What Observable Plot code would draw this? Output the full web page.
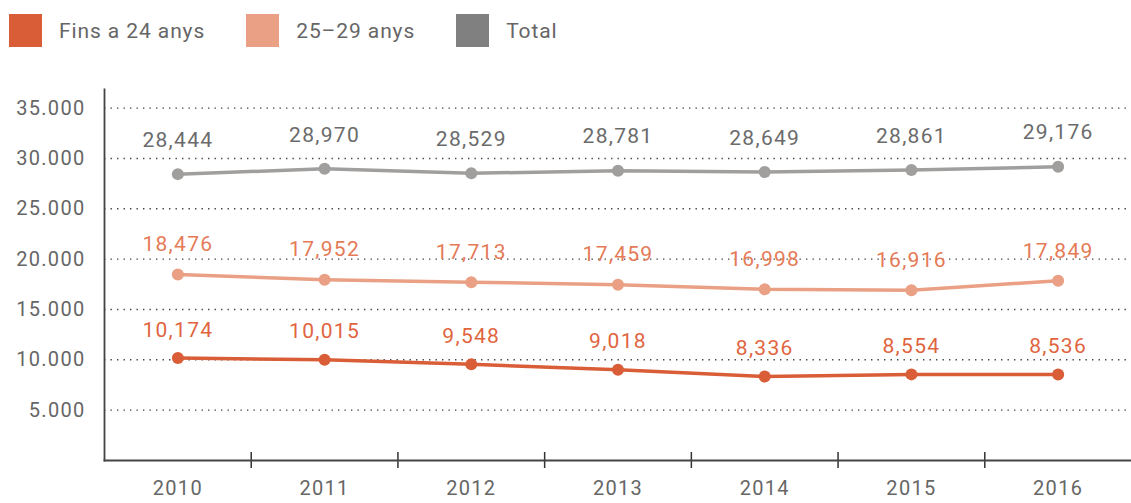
<!DOCTYPE html>
<html>
<head>
<meta charset="utf-8">
<script src="https://cdn.jsdelivr.net/npm/d3@7"></script>
<script src="https://cdn.jsdelivr.net/npm/@observablehq/plot@0.6"></script>
<style>
  html, body { margin: 0; padding: 0; background: #fff; }
  body { font-family: Roboto, sans-serif; width: 1131px; overflow: hidden; }
  #legend { display: flex; height: 60px; padding: 14px 0 0 9px; box-sizing: border-box; }
  .item { display: flex; align-items: center; height: 33px; color: #666; font-size: 21px; letter-spacing: 0.9px; }
  .sw { width: 33px; height: 33px; margin-right: 17px; }
  #chart svg { display: block; }
</style>
</head>
<body>
<div id="legend"></div>
<div id="chart"></div>
<script>
// ---- data ----
const years = [2010, 2011, 2012, 2013, 2014, 2015, 2016];
const finsA24 = [10174, 10015, 9548, 9018, 8336, 8554, 8536];
const de25a29 = [18476, 17952, 17713, 17459, 16998, 16916, 17849];
const totals = [28444, 28970, 28529, 28781, 28649, 28861, 29176];
const seriesNames = ["Fins a 24 anys", "25–29 anys", "Total"];
const yTicks = [5000, 10000, 15000, 20000, 25000, 30000, 35000];
const yTickLabels = ["5.000", "10.000", "15.000", "20.000", "25.000", "30.000", "35.000"];
const xTickLabels = ["2010", "2011", "2012", "2013", "2014", "2015", "2016"];

// ---- styles ----
const lineColors = ["#d95d36", "#e9a084", "#a09f9d"];
const swatchColors = ["#d95d36", "#e9a084", "#808080"];
const labelColors = ["#e0653f", "#e57a57", "#6b6b6b"];
const labelDy = [-28, -30, -34];

const seriesValues = [finsA24, de25a29, totals];
const data = [];
seriesNames.forEach((s, si) => {
  years.forEach((yr, i) => data.push({series: s, year: yr, value: seriesValues[si][i]}));
});

// legend
const legend = document.getElementById("legend");
const gaps = [41, 41, 0];
seriesNames.forEach((s, i) => {
  const it = document.createElement("div");
  it.className = "item";
  it.style.marginRight = gaps[i] + "px";
  const sw = document.createElement("div");
  sw.className = "sw";
  sw.style.background = swatchColors[i];
  const tx = document.createElement("span");
  tx.textContent = s;
  it.appendChild(sw); it.appendChild(tx);
  legend.appendChild(it);
});

const boundaries = years.slice(0, -1).map(y => y + 0.5);
const fmt = d3.format(",");
const fontStyle = {fontSize: 20, fill: "#666"};

const chart = Plot.plot({
  width: 1131,
  height: 443,
  marginLeft: 104,
  marginRight: 0,
  marginTop: 29,
  marginBottom: 43,
  style: {fontFamily: "Roboto, sans-serif", letterSpacing: "1.3px", background: "transparent"},
  x: {type: "linear", domain: [years[0] - 0.5, years[years.length - 1] + 0.5]},
  y: {domain: [0, 36850]},
  color: {domain: seriesNames, range: lineColors},
  marks: [
    Plot.gridY(yTicks, {stroke: "#444", strokeOpacity: 1, strokeWidth: 1.4, strokeDasharray: "1.4,5.1"}),
    Plot.axisY(yTicks, {tickSize: 0, tickPadding: 19, tickFormat: d => yTickLabels[yTicks.indexOf(d)], ...fontStyle, label: null}),
    Plot.axisX(years, {tickSize: 0, tickPadding: 20, tickFormat: d => xTickLabels[years.indexOf(d)], ...fontStyle, label: null}),
    Plot.axisX(boundaries, {tickSize: 16, dy: -8, tickFormat: () => "", stroke: "#333", strokeWidth: 1.5, label: null}),
    Plot.frame({anchor: "left", stroke: "#444", strokeWidth: 1.8}),
    Plot.frame({anchor: "bottom", stroke: "#444", strokeWidth: 1.8}),
    Plot.line(data, {x: "year", y: "value", stroke: "series", strokeWidth: 3.5, curve: "linear"}),
    Plot.dot(data, {x: "year", y: "value", fill: "series", r: 6}),
    ...seriesNames.map((s, i) => Plot.text(data.filter(d => d.series === s), {
      x: "year", y: "value", text: d => fmt(d.value), dy: labelDy[i],
      fill: labelColors[i], fontSize: 21
    }))
  ]
});
document.getElementById("chart").appendChild(chart);
</script>
</body>
</html>
